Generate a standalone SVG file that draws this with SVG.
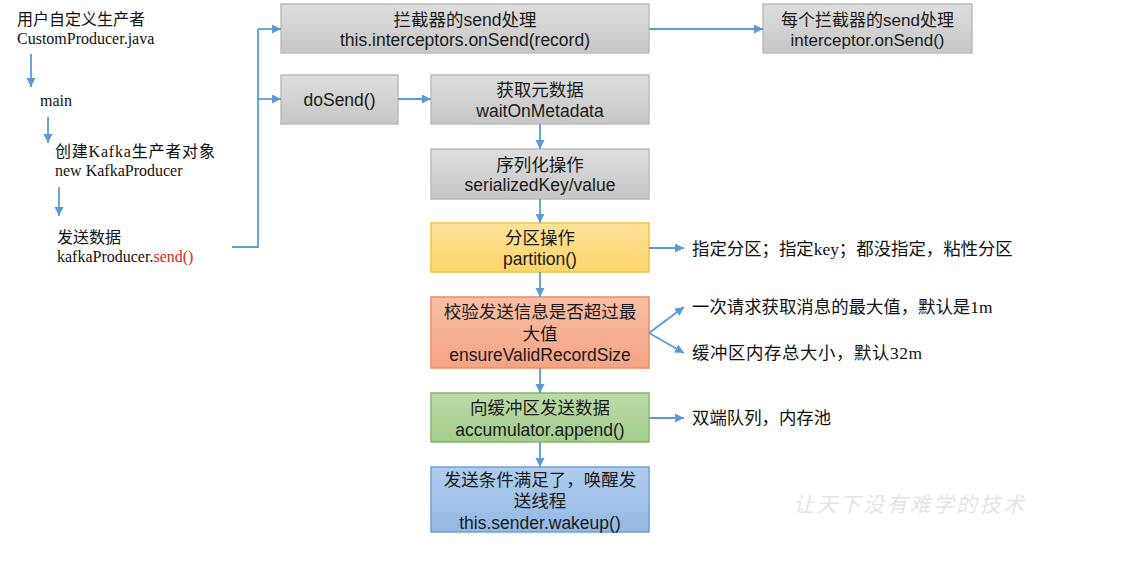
<svg xmlns="http://www.w3.org/2000/svg" width="1125" height="577" viewBox="0 0 1125 577">
<defs>
<linearGradient id="gGray" x1="0" y1="0" x2="0" y2="1"><stop offset="0" stop-color="#dedede"/><stop offset="1" stop-color="#c6c6c6"/></linearGradient>
<linearGradient id="gYellow" x1="0" y1="0" x2="0" y2="1"><stop offset="0" stop-color="#ffe199"/><stop offset="1" stop-color="#fdd56a"/></linearGradient>
<linearGradient id="gOrange" x1="0" y1="0" x2="0" y2="1"><stop offset="0" stop-color="#f9bfa6"/><stop offset="1" stop-color="#f4a383"/></linearGradient>
<linearGradient id="gGreen" x1="0" y1="0" x2="0" y2="1"><stop offset="0" stop-color="#bcdba8"/><stop offset="1" stop-color="#a3cc8c"/></linearGradient>
<linearGradient id="gBlue" x1="0" y1="0" x2="0" y2="1"><stop offset="0" stop-color="#b0cdee"/><stop offset="1" stop-color="#93b8e4"/></linearGradient>
<marker id="arr" markerUnits="userSpaceOnUse" markerWidth="10" markerHeight="10" refX="9" refY="4.5" orient="auto"><path d="M0,0 L9,4.5 L0,9 z" fill="#5b9bd5"/></marker>
</defs>
<style>
.box-gray{fill:url(#gGray);stroke:#bcbcbc;stroke-width:1.5}
.box-yellow{fill:url(#gYellow);stroke:#f5c242;stroke-width:1.5}
.box-orange{fill:url(#gOrange);stroke:#ef8a62;stroke-width:1.5}
.box-green{fill:url(#gGreen);stroke:#84b96a;stroke-width:1.5}
.box-blue{fill:url(#gBlue);stroke:#6e9fd8;stroke-width:1.5}
.bt{font-family:"Liberation Sans","Noto Sans CJK SC",sans-serif;font-size:17.5px;fill:#1a1a1a;text-anchor:middle}
.st{font-family:"Liberation Serif","Noto Sans CJK SC",serif;font-size:16px;fill:#111}
.rt{font-family:"Liberation Serif","Noto Sans CJK SC",serif;font-size:17.4px;fill:#111}
.conn{fill:none;stroke:#5b9bd5;stroke-width:1.8;marker-end:url(#arr)}
.line{fill:none;stroke:#5b9bd5;stroke-width:1.8}
</style>
<rect width="1125" height="577" fill="#ffffff"/>

<g id="left-steps">
<text class="st" x="17" y="25">用户自定义生产者</text>
<text class="st" x="17" y="44">CustomProducer.java</text>
<text class="st" x="40" y="106">main</text>
<text class="st" x="55" y="157" style="letter-spacing:0.8px">创建Kafka生产者对象</text>
<text class="st" x="55" y="176">new KafkaProducer</text>
<text class="st" x="57" y="243">发送数据</text>
<text class="st" x="57" y="262">kafkaProducer.<tspan fill="#e8231f">send()</tspan></text>
</g>

<g id="node-interceptors">
<rect class="box-gray" x="281" y="4" width="368" height="49"/>
<text class="bt" x="465" y="26">拦截器的send处理</text>
<text class="bt" x="465" y="46">this.interceptors.onSend(record)</text>
</g>
<g id="node-each-interceptor">
<rect class="box-gray" x="763" y="4" width="209" height="49"/>
<text class="bt" x="867.5" y="26" style="font-size:17px">每个拦截器的send处理</text>
<text class="bt" x="867.5" y="46" style="font-size:17px">interceptor.onSend()</text>
</g>
<g id="node-dosend">
<rect class="box-gray" x="281" y="75" width="117" height="49"/>
<text class="bt" x="339.5" y="106">doSend()</text>
</g>
<g id="node-metadata">
<rect class="box-gray" x="431" y="75" width="218" height="49"/>
<text class="bt" x="540" y="96">获取元数据</text>
<text class="bt" x="540" y="117">waitOnMetadata</text>
</g>
<g id="node-serialize">
<rect class="box-gray" x="431" y="149" width="218" height="50"/>
<text class="bt" x="540" y="171">序列化操作</text>
<text class="bt" x="540" y="191">serializedKey/value</text>
</g>
<g id="node-partition">
<rect class="box-yellow" x="431" y="223" width="218" height="49"/>
<text class="bt" x="540" y="244">分区操作</text>
<text class="bt" x="540" y="265">partition()</text>
</g>
<g id="node-validate">
<rect class="box-orange" x="431" y="297" width="218" height="71"/>
<text class="bt" x="540" y="318">校验发送信息是否超过最</text>
<text class="bt" x="540" y="340">大值</text>
<text class="bt" x="540" y="361">ensureValidRecordSize</text>
</g>
<g id="node-append">
<rect class="box-green" x="431" y="393" width="218" height="49"/>
<text class="bt" x="540" y="414">向缓冲区发送数据</text>
<text class="bt" x="540" y="436">accumulator.append()</text>
</g>
<g id="node-wakeup">
<rect class="box-blue" x="431" y="467" width="218" height="65"/>
<text class="bt" x="540" y="486">发送条件满足了，唤醒发</text>
<text class="bt" x="540" y="507">送线程</text>
<text class="bt" x="540" y="529">this.sender.wakeup()</text>
</g>

<g id="notes">
<text class="rt" x="692" y="255">指定分区；指定key；都没指定，粘性分区</text>
<text class="rt" x="692" y="313">一次请求获取消息的最大值，默认是1m</text>
<text class="rt" x="692" y="359" style="letter-spacing:0.6px">缓冲区内存总大小，默认32m</text>
<text class="rt" x="692" y="424">双端队列，内存池</text>
</g>

<g id="connectors">
<line class="conn" x1="31" y1="54" x2="31" y2="87"/>
<line class="conn" x1="48" y1="117" x2="48" y2="143"/>
<line class="conn" x1="59" y1="187" x2="59" y2="216"/>
<polyline class="line" points="232,247 258,247 258,29"/>
<line class="conn" x1="258" y1="29" x2="281" y2="29"/>
<line class="conn" x1="258" y1="99" x2="281" y2="99"/>
<line class="conn" x1="649" y1="29" x2="763" y2="29"/>
<line class="conn" x1="398" y1="99" x2="431" y2="99"/>
<line class="conn" x1="540" y1="124" x2="540" y2="149"/>
<line class="conn" x1="540" y1="199" x2="540" y2="223"/>
<line class="conn" x1="540" y1="272" x2="540" y2="297"/>
<line class="conn" x1="540" y1="368" x2="540" y2="393"/>
<line class="conn" x1="540" y1="442" x2="540" y2="467"/>
<line class="conn" x1="649" y1="248" x2="684" y2="248"/>
<line class="conn" x1="649" y1="333" x2="684" y2="307"/>
<line class="conn" x1="649" y1="333" x2="684" y2="353"/>
<line class="conn" x1="649" y1="418" x2="684" y2="418"/>
</g>

<text x="793" y="512" style="font-family:'Noto Sans CJK SC',sans-serif;font-size:21px;fill:#e4e4e4;letter-spacing:2.3px;font-style:italic">让天下没有难学的技术</text>
</svg>
